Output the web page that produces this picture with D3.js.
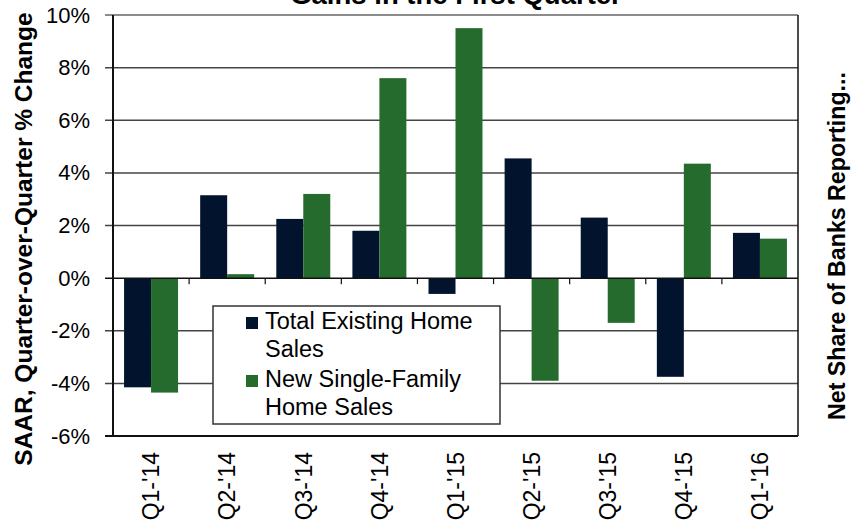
<!DOCTYPE html>
<html>
<head>
<meta charset="utf-8">
<script src="https://cdn.jsdelivr.net/npm/d3@7"></script>
<style>
  html, body { margin: 0; padding: 0; background: #fff; }
  svg { display: block; font-family: "Liberation Sans", Arial, sans-serif; }
</style>
</head>
<body>
<svg id="chart" width="851" height="522"></svg>
<script>
// ---- data ----
const categories = ["Q1-'14", "Q2-'14", "Q3-'14", "Q4-'14", "Q1-'15", "Q2-'15", "Q3-'15", "Q4-'15", "Q1-'16"];
const seriesNames = ["Total Existing Home Sales", "New Single-Family Home Sales"];
const existingSales = [-4.15, 3.15, 2.25, 1.8, -0.6, 4.55, 2.3, -3.75, 1.72];
const newSingleFamily = [-4.35, 0.15, 3.2, 7.6, 9.5, -3.9, -1.7, 4.35, 1.5];
const yTicks = [-6, -4, -2, 0, 2, 4, 6, 8, 10];
const legendLines = [["Total Existing Home", "Sales"], ["New Single-Family", "Home Sales"]];
const titleText = "Gains in the First Quarter";
const yTitle = "SAAR, Quarter-over-Quarter % Change";
const y2Title = "Net Share of Banks Reporting...";

const colors = ["#02132d", "#256b2d"];
const seriesValues = [existingSales, newSingleFamily];

const svg = d3.select("#chart");
const plot = { left: 113, right: 798, top: 15, bottom: 436 };

const x = d3.scaleBand().domain(categories).range([plot.left, plot.right]).paddingInner(0).paddingOuter(0);
const x1 = d3.scaleBand().domain(seriesNames).range([0, x.bandwidth()]).paddingInner(0).paddingOuter(0.41);
const y = d3.scaleLinear().domain([-6, 10]).range([plot.bottom, plot.top]);

// gridlines
svg.append("g").selectAll("line").data(yTicks.filter(d => d !== -6 && d !== 0)).join("line")
  .attr("x1", plot.left - 8).attr("x2", plot.right)
  .attr("y1", d => y(d)).attr("y2", d => y(d))
  .attr("stroke", d => d === 10 ? "#666" : "#444").attr("stroke-width", 1.5);

// bars
const rows = categories.map((c, i) => ({ cat: c, vals: seriesNames.map((s, k) => ({ s, k, v: seriesValues[k][i] })) }));
svg.append("g").selectAll("g").data(rows).join("g")
  .attr("transform", d => `translate(${x(d.cat)},0)`)
  .selectAll("rect").data(d => d.vals).join("rect")
  .attr("x", d => x1(d.s))
  .attr("width", x1.bandwidth())
  .attr("y", d => y(Math.max(0, d.v)))
  .attr("height", d => Math.abs(y(d.v) - y(0)))
  .attr("fill", d => colors[d.k]);

// zero line with ticks between categories
svg.append("line").attr("x1", plot.left - 8).attr("x2", plot.right)
  .attr("y1", y(0)).attr("y2", y(0)).attr("stroke", "#111").attr("stroke-width", 1.5);
svg.append("g").selectAll("line").data(categories.slice(1)).join("line")
  .attr("x1", d => x(d)).attr("x2", d => x(d))
  .attr("y1", y(0)).attr("y2", y(0) + 6)
  .attr("stroke", "#111").attr("stroke-width", 1.2);

// frame: left axis, bottom, right
svg.append("line").attr("x1", plot.left).attr("x2", plot.left).attr("y1", plot.top).attr("y2", plot.bottom)
  .attr("stroke", "#111").attr("stroke-width", 2);
svg.append("line").attr("x1", plot.left - 8).attr("x2", plot.right).attr("y1", plot.bottom).attr("y2", plot.bottom)
  .attr("stroke", "#111").attr("stroke-width", 2);
svg.append("line").attr("x1", plot.right).attr("x2", plot.right).attr("y1", plot.top).attr("y2", plot.bottom)
  .attr("stroke", "#111").attr("stroke-width", 1.5);

// y axis labels
const yAxis = d3.axisLeft(y).tickValues(yTicks).tickSize(0).tickPadding(23).tickFormat(d => d + "%");
const ga = svg.append("g").attr("transform", `translate(${plot.left},0)`).call(yAxis);
ga.select(".domain").remove();
ga.selectAll("text").attr("font-size", 22).attr("fill", "#000").attr("font-family", "Liberation Sans, Arial, sans-serif");

// x axis labels
const xAxis = d3.axisBottom(x).tickSize(0).tickPadding(0);
const gx = svg.append("g").attr("transform", `translate(0,${plot.bottom})`).call(xAxis);
gx.select(".domain").remove();
gx.selectAll("text")
  .attr("font-size", 23).attr("fill", "#000").attr("font-family", "Liberation Sans, Arial, sans-serif")
  .attr("text-anchor", "end")
  .attr("transform", "translate(0,16) rotate(-90)")
  .attr("x", 0).attr("y", 0).attr("dy", "0.36em");

// legend
const lg = svg.append("g");
lg.append("rect").attr("x", 213).attr("y", 306).attr("width", 287).attr("height", 118)
  .attr("fill", "#fff").attr("stroke", "#333").attr("stroke-width", 1.5);
const legBase = [329, 387];
legendLines.forEach((lines, k) => {
  lg.append("rect").attr("x", 246).attr("y", legBase[k] - 12).attr("width", 12).attr("height", 12).attr("fill", colors[k]);
  lines.forEach((t, j) => {
    lg.append("text").attr("x", 265).attr("y", legBase[k] + j * 28)
      .attr("font-size", 23.5).attr("fill", "#000").text(t);
  });
});

// titles
svg.append("text").attr("x", 456).attr("y", 4).attr("text-anchor", "middle")
  .attr("font-size", 27.5).attr("font-weight", "bold").attr("fill", "#000").text(titleText);
svg.append("text").attr("transform", "translate(32,239) rotate(-90)").attr("text-anchor", "middle")
  .attr("font-size", 24.5).attr("font-weight", "bold").attr("fill", "#000").text(yTitle);
svg.append("text").attr("transform", "translate(845,246) rotate(-90)").attr("text-anchor", "middle")
  .attr("font-size", 23.2).attr("font-weight", "bold").attr("fill", "#000").text(y2Title);
</script>
</body>
</html>
